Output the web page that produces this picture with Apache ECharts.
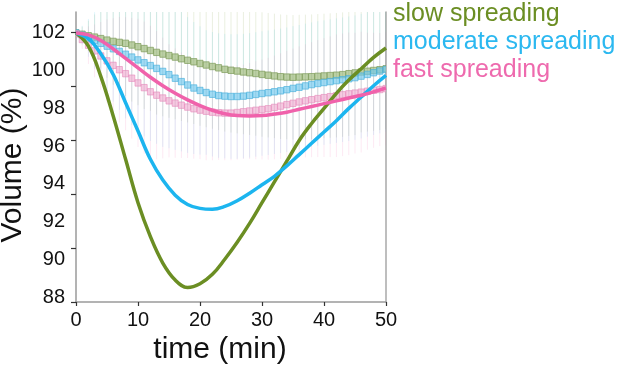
<!DOCTYPE html>
<html>
<head>
<meta charset="utf-8">
<script src="https://cdn.jsdelivr.net/npm/echarts@6/dist/echarts.min.js"></script>
<style>html,body{margin:0;padding:0;background:#fff}#c{width:617px;height:365px}</style>
</head>
<body>
<div id="c"></div>
<script>
// ---- data ----
const seriesNames = ['slow spreading', 'moderate spreading', 'fast spreading'];

// smooth fitted curves
const tLine = [0,2,4,6,8,10,12,14,16,18,20,22,24,26,28,30,32,34,36,38,40,42,44,46,48,50];
const slowLine = [102.0,101.3,99.7,97.6,95.3,93.0,91.2,89.8,88.9,88.5,88.7,89.2,90.0,90.9,91.9,93.0,94.1,95.2,96.3,97.2,98.0,98.8,99.5,100.1,100.7,101.2];
const moderateLine = [102.0,101.7,100.9,99.8,98.3,96.8,95.3,94.2,93.4,92.9,92.7,92.65,92.8,93.1,93.5,93.95,94.4,94.95,95.55,96.15,96.75,97.35,98.0,98.6,99.2,99.75];
const fastLine = [102.0,101.9,101.6,101.15,100.65,100.15,99.65,99.2,98.8,98.45,98.15,97.9,97.72,97.62,97.6,97.62,97.7,97.8,97.95,98.1,98.25,98.4,98.55,98.7,98.88,99.08];

// measured means (boxes) and spread (whiskers)
const tBox = [0,1,2,3,4,5,6,7,8,9,10,11,12,13,14,15,16,17,18,19,20,21,22,23,24,25,26,27,28,29,30,31,32,33,34,35,36,37,38,39,40,41,42,43,44,45,46,47,48,49,50];
const slowMean = [102.0,101.93,101.85,101.78,101.7,101.62,101.55,101.5,101.45,101.36,101.27,101.17,101.07,100.97,100.88,100.8,100.72,100.63,100.55,100.47,100.38,100.3,100.22,100.15,100.07,100.02,99.98,99.93,99.89,99.85,99.8,99.76,99.72,99.68,99.66,99.65,99.66,99.67,99.68,99.7,99.72,99.74,99.76,99.79,99.84,99.88,99.93,99.97,100.01,100.05,100.1];
const moderateMean = [102.0,101.88,101.74,101.6,101.45,101.3,101.16,101.02,100.87,100.72,100.57,100.42,100.27,100.12,99.96,99.79,99.6,99.42,99.24,99.08,98.95,98.84,98.75,98.68,98.65,98.63,98.63,98.65,98.69,98.74,98.79,98.83,98.88,98.93,98.99,99.06,99.12,99.19,99.26,99.32,99.37,99.42,99.47,99.52,99.57,99.63,99.71,99.8,99.89,99.98,100.06];
const fastMean = [101.95,101.65,101.35,101.05,100.78,100.52,100.28,100.05,99.84,99.6,99.35,99.1,98.88,98.7,98.55,98.4,98.28,98.17,98.07,97.98,97.91,97.85,97.8,97.77,97.75,97.75,97.78,97.82,97.86,97.9,97.94,97.98,98.05,98.12,98.2,98.27,98.34,98.4,98.46,98.52,98.57,98.62,98.67,98.72,98.77,98.81,98.86,98.91,98.96,99.0,99.05];
const slowSD = [0,0.4,0.8,1.2,1.6,2.0,2.3,2.6,2.8,3.0,3.1,3.2,3.2,3.3,3.3,3.3,3.3,3.3,3.3,3.3,3.3,3.3,3.3,3.3,3.3,3.3,3.3,3.3,3.3,3.3,3.3,3.3,3.3,3.3,3.3,3.3,3.3,3.3,3.3,3.3,3.3,3.3,3.3,3.3,3.3,3.3,3.2,3.2,3.2,3.2,3.2];
const moderateSD = [0,0.5,1.0,1.5,2.0,2.4,2.8,3.1,3.4,3.6,3.8,3.9,4.0,4.0,4.0,3.9,3.8,3.7,3.6,3.5,3.4,3.3,3.3,3.3,3.3,3.3,3.3,3.3,3.3,3.3,3.3,3.3,3.3,3.3,3.3,3.3,3.3,3.3,3.3,3.3,3.3,3.3,3.3,3.3,3.3,3.3,3.3,3.3,3.3,3.3,3.3];
const fastSD = [0,0.5,1.0,1.4,1.8,2.2,2.5,2.8,3.0,3.2,3.4,3.5,3.5,3.4,3.2,3.0,2.9,2.8,2.7,2.65,2.6,2.6,2.55,2.5,2.5,2.5,2.5,2.5,2.55,2.6,2.65,2.7,2.75,2.8,2.85,2.9,2.95,3.0,3.05,3.1,3.15,3.2,3.25,3.25,3.25,3.2,3.2,3.1,3.05,3.0,3.0];

// axis ticks / labels
const yLabelValues = [88,90,92,94,96,98,100,102];
const yTickValues = [87.735,90.6,93.46,96.33,99.19,102.05];

// ---- styles ----
const FONT = "'Liberation Sans', Arial, Helvetica, sans-serif";
const lineColors = ['#6b8e23', '#1cb5ef', '#f062ab'];
const legendColors = ['#6b8e23', '#2bb8f0', '#ee6aae'];
const boxFill = ['rgba(160,188,125,0.7)', 'rgba(110,200,238,0.65)', 'rgba(240,165,205,0.6)'];
const boxStroke = ['rgba(125,155,90,0.7)', 'rgba(70,175,220,0.65)', 'rgba(228,135,185,0.6)'];

function pairs(xs, ys) { return xs.map((x, i) => [x, ys[i]]); }
function whiskerData(xs, m, sd) { return xs.map((x, i) => [x, m[i] - sd[i], m[i] + sd[i]]); }

function whiskerSeries(k, data) {
  return {
    type: 'custom', name: seriesNames[k] + ' sd', clip: true, silent: true, z: 1,
    data: data,
    renderItem: function (params, api) {
      const x = api.value(0);
      const p1 = api.coord([x, api.value(1)]);
      const p2 = api.coord([x, api.value(2)]);
      return { type: 'line', shape: { x1: p1[0], y1: p1[1], x2: p2[0], y2: p2[1] },
        style: { stroke: lineColors[k], lineWidth: 1, opacity: 0.14 } };
    }
  };
}
function boxSeries(k, data) {
  return {
    type: 'custom', name: seriesNames[k] + ' mean', clip: true, silent: true, z: 2,
    data: data,
    renderItem: function (params, api) {
      const x = api.value(0), m = api.value(1);
      const top = api.coord([x, m + 0.17]);
      const bot = api.coord([x, m - 0.17]);
      return { type: 'rect', shape: { x: top[0] - 3, y: top[1], width: 6, height: bot[1] - top[1] },
        style: { fill: boxFill[k], stroke: boxStroke[k], lineWidth: 1 } };
    }
  };
}
function lineSeries(k, ys) {
  return {
    type: 'line', name: seriesNames[k], data: pairs(tLine, ys), smooth: 0.4,
    showSymbol: false, symbol: 'none', z: 5, clip: true,
    lineStyle: { color: lineColors[k], width: 3.5 }, itemStyle: { color: lineColors[k] }
  };
}

const chart = echarts.init(document.getElementById('c'), null, { renderer: 'canvas' });
chart.setOption({
  animation: false,
  backgroundColor: '#ffffff',
  textStyle: { fontFamily: FONT },
  grid: { left: 76, right: 231, top: 12, bottom: 63, containLabel: false, outerBoundsMode: 'none' },
  legend: {
    orient: 'vertical', left: 388, top: 0, padding: 0, itemGap: 0,
    itemWidth: 0, itemHeight: 0, icon: 'rect', selectedMode: false,
    textStyle: { fontSize: 25, fontFamily: FONT, lineHeight: 28 },
    data: seriesNames.map((n, i) => ({ name: n, textStyle: { color: legendColors[i] } }))
  },
  xAxis: {
    type: 'value', min: 0, max: 50, interval: 10,
    name: 'time (min)', nameLocation: 'middle', nameGap: 33, nameMoveOverlap: false,
    nameTextStyle: { fontSize: 30, color: '#111', fontFamily: FONT, padding: [0, 22, 0, 0], verticalAlign: 'top' },
    axisLine: { show: true, lineStyle: { color: '#9a9a9a', width: 1.5 } },
    axisTick: { show: true, length: 4, lineStyle: { color: '#333', width: 1.2 } },
    axisLabel: { fontSize: 20, color: '#111', margin: 8, fontFamily: FONT },
    splitLine: { show: false }
  },
  yAxis: [{
    type: 'value', min: 87.735, max: 103.11,
    name: 'Volume (%)', nameLocation: 'middle', nameGap: 48, nameRotate: 90, nameMoveOverlap: false,
    nameTextStyle: { fontSize: 30, color: '#111', fontFamily: FONT, padding: [0, 16, 0, 0] },
    axisLine: { show: true, lineStyle: { color: '#9a9a9a', width: 1.5 } },
    axisTick: { show: true, length: 5, customValues: yTickValues, lineStyle: { color: '#333', width: 1.2 } },
    axisLabel: { fontSize: 20, color: '#111', margin: 11, fontFamily: FONT, customValues: yLabelValues },
    splitLine: { show: false }
  }, {
    type: 'value', position: 'right', min: 87.735, max: 103.11,
    axisLine: { show: true, onZero: false, lineStyle: { color: '#a8a8a8', width: 1.5 } },
    axisTick: { show: false }, axisLabel: { show: false }, splitLine: { show: false }
  }],
  series: [
    whiskerSeries(0, whiskerData(tBox, slowMean, slowSD)),
    whiskerSeries(1, whiskerData(tBox, moderateMean, moderateSD)),
    whiskerSeries(2, whiskerData(tBox, fastMean, fastSD)),
    boxSeries(0, pairs(tBox, slowMean)),
    boxSeries(1, pairs(tBox, moderateMean)),
    boxSeries(2, pairs(tBox, fastMean)),
    lineSeries(0, slowLine),
    lineSeries(1, moderateLine),
    lineSeries(2, fastLine)
  ]
});
</script>
</body>
</html>
